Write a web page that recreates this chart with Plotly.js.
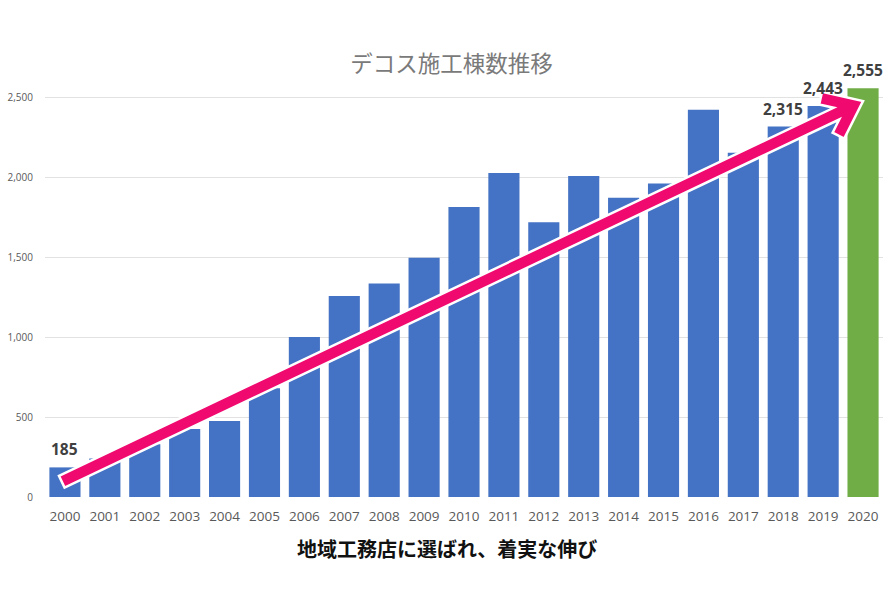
<!DOCTYPE html>
<html>
<head>
<meta charset="utf-8">
<script src="https://cdn.plot.ly/plotly-3.0.1.min.js"></script>
<style>
  html, body { margin: 0; padding: 0; background: #ffffff; }
  #chart { width: 890px; height: 601px; }
</style>
</head>
<body>
<div id="chart"></div>
<script>
// ---- data ----
const YEARS = [2000, 2001, 2002, 2003, 2004, 2005, 2006, 2007, 2008, 2009, 2010,
               2011, 2012, 2013, 2014, 2015, 2016, 2017, 2018, 2019, 2020];
const VALUES = [185, 240, 330, 425, 475, 680, 1000, 1256, 1335, 1496, 1812,
                2025, 1717, 2006, 1871, 1960, 2421, 2152, 2315, 2443, 2555];
const HIGHLIGHT_YEAR = 2020;
const LABELED_YEARS = [2000, 2018, 2019, 2020];
const TITLE = 'デコス施工棟数推移';
const X_TITLE = '地域工務店に選ばれ、着実な伸び';
const Y_TICKS = [0, 500, 1000, 1500, 2000, 2500];
const Y_TICK_TEXT = ['0', '500', '1,000', '1,500', '2,000', '2,500'];
// trend arrow (data units): tail and tip
const ARROW_FROM = [1999.92, 96];
const ARROW_TO = [2020.0, 2475];

// ---- styling ----
const BLUE = '#4472C4';
const GREEN = '#70AD47';
const PINK = '#F0096F';
const W = 890, H = 601;
const M = {l: 45, r: 7, t: 81, b: 104};
const XR = [1999.5, 2020.5];
const YR = [0, 2600];

const colors = YEARS.map(y => y === HIGHLIGHT_YEAR ? GREEN : BLUE);

// ---- arrow polygon computed in pixel space, converted back to data ----
const plotW = W - M.l - M.r, plotH = H - M.t - M.b;
const pxX = plotW / (XR[1] - XR[0]);
const pxY = plotH / (YR[1] - YR[0]);
function toPx(p) { return [(p[0] - XR[0]) * pxX, (p[1] - YR[0]) * pxY]; }
function toData(p) { return [p[0] / pxX + XR[0], p[1] / pxY + YR[0]]; }
function add(a, b) { return [a[0] + b[0], a[1] + b[1]]; }
function mul(a, k) { return [a[0] * k, a[1] * k]; }

function arrowPath() {
  const P0 = toPx(ARROW_FROM), T = toPx(ARROW_TO);
  const dx = T[0] - P0[0], dy = T[1] - P0[1];
  const len = Math.hypot(dx, dy);
  const u = [dx / len, dy / len];
  const n = [-u[1], u[0]];
  const h = 6.5;           // shaft half width
  const t = 13;            // arm thickness
  const L = 42;            // arm length
  const a = 38 * Math.PI / 180;
  const V = add(T, mul(u, -t / Math.sin(a)));
  const pts = [];
  const side = (s) => {
    const d = add(mul(u, -Math.cos(a)), mul(n, s * Math.sin(a)));
    const Eo = add(T, mul(d, L));
    const VT = mul(u, -t / Math.sin(a));
    const proj = VT[0] * d[0] + VT[1] * d[1];
    const w = add(VT, mul(d, -proj));
    const Ei = add(Eo, w);
    const B = add(add(V, mul(u, -h / Math.tan(a))), mul(n, s * h));
    const A = add(P0, mul(n, s * h));
    return {A, B, Ei, Eo};
  };
  const p = side(1), q = side(-1);
  pts.push(p.A, p.B, p.Ei, p.Eo, T, q.Eo, q.Ei, q.B, q.A);
  const d = pts.map(toData);
  return 'M ' + d.map(v => v[0].toFixed(4) + ',' + v[1].toFixed(2)).join(' L ') + ' Z';
}

const trace = {
  type: 'bar',
  x: YEARS,
  y: VALUES,
  width: 0.78,
  marker: {color: colors},
  hoverinfo: 'x+y',
};

const annotations = LABELED_YEARS.map(yr => {
  const v = VALUES[YEARS.indexOf(yr)];
  return {
    x: yr, y: v, xref: 'x', yref: 'y',
    text: v.toLocaleString('en-US'),
    showarrow: false, yanchor: 'bottom', yshift: 5,
    font: {family: 'Open Sans, Noto Sans, sans-serif', size: 15.5, color: '#404040', weight: 'bold'}
  };
});
// caption under the axis, placed where the reference has it
const CAPTION_PX = [446.5, 548];
annotations.push({
  text: X_TITLE,
  xref: 'paper', yref: 'paper',
  x: (CAPTION_PX[0] - M.l) / plotW,
  y: (H - M.b - CAPTION_PX[1]) / plotH,
  xanchor: 'center', yanchor: 'middle',
  showarrow: false,
  font: {family: 'Noto Sans CJK JP, sans-serif', size: 20, color: '#111111', weight: 'bold'}
});

const layout = {
  width: W, height: H,
  margin: M,
  paper_bgcolor: '#ffffff',
  plot_bgcolor: '#ffffff',
  showlegend: false,
  title: {
    text: TITLE,
    x: 451.5 / W, xref: 'container', xanchor: 'center',
    y: 1 - 64 / H, yref: 'container', yanchor: 'middle',
    font: {family: 'Noto Sans CJK JP, sans-serif', size: 22.5, color: '#7a7a7a'}
  },
  xaxis: {
    type: 'linear',
    range: XR,
    tickvals: YEARS,
    ticktext: YEARS.map(String),
    showgrid: false, zeroline: false, showline: false,
    ticks: '',
    ticklabelstandoff: 9,
    tickfont: {family: 'Open Sans, sans-serif', size: 13.5, color: '#595959'},
    title: {text: ''},
    fixedrange: true
  },
  yaxis: {
    range: YR,
    tickvals: Y_TICKS,
    ticktext: Y_TICK_TEXT,
    showgrid: true, gridcolor: '#e2e2e2', gridwidth: 1,
    zeroline: false, showline: false,
    ticks: '',
    ticklabelstandoff: 11,
    tickfont: {family: 'Open Sans, sans-serif', size: 10, color: '#595959'},
    fixedrange: true
  },
  shapes: [{
    type: 'path', xref: 'x', yref: 'y', layer: 'above',
    path: arrowPath(),
    fillcolor: PINK,
    line: {color: '#ffffff', width: 2.5}
  }],
  annotations: annotations
};

Plotly.newPlot('chart', [trace], layout, {displayModeBar: false, staticPlot: true});
</script>
</body>
</html>
